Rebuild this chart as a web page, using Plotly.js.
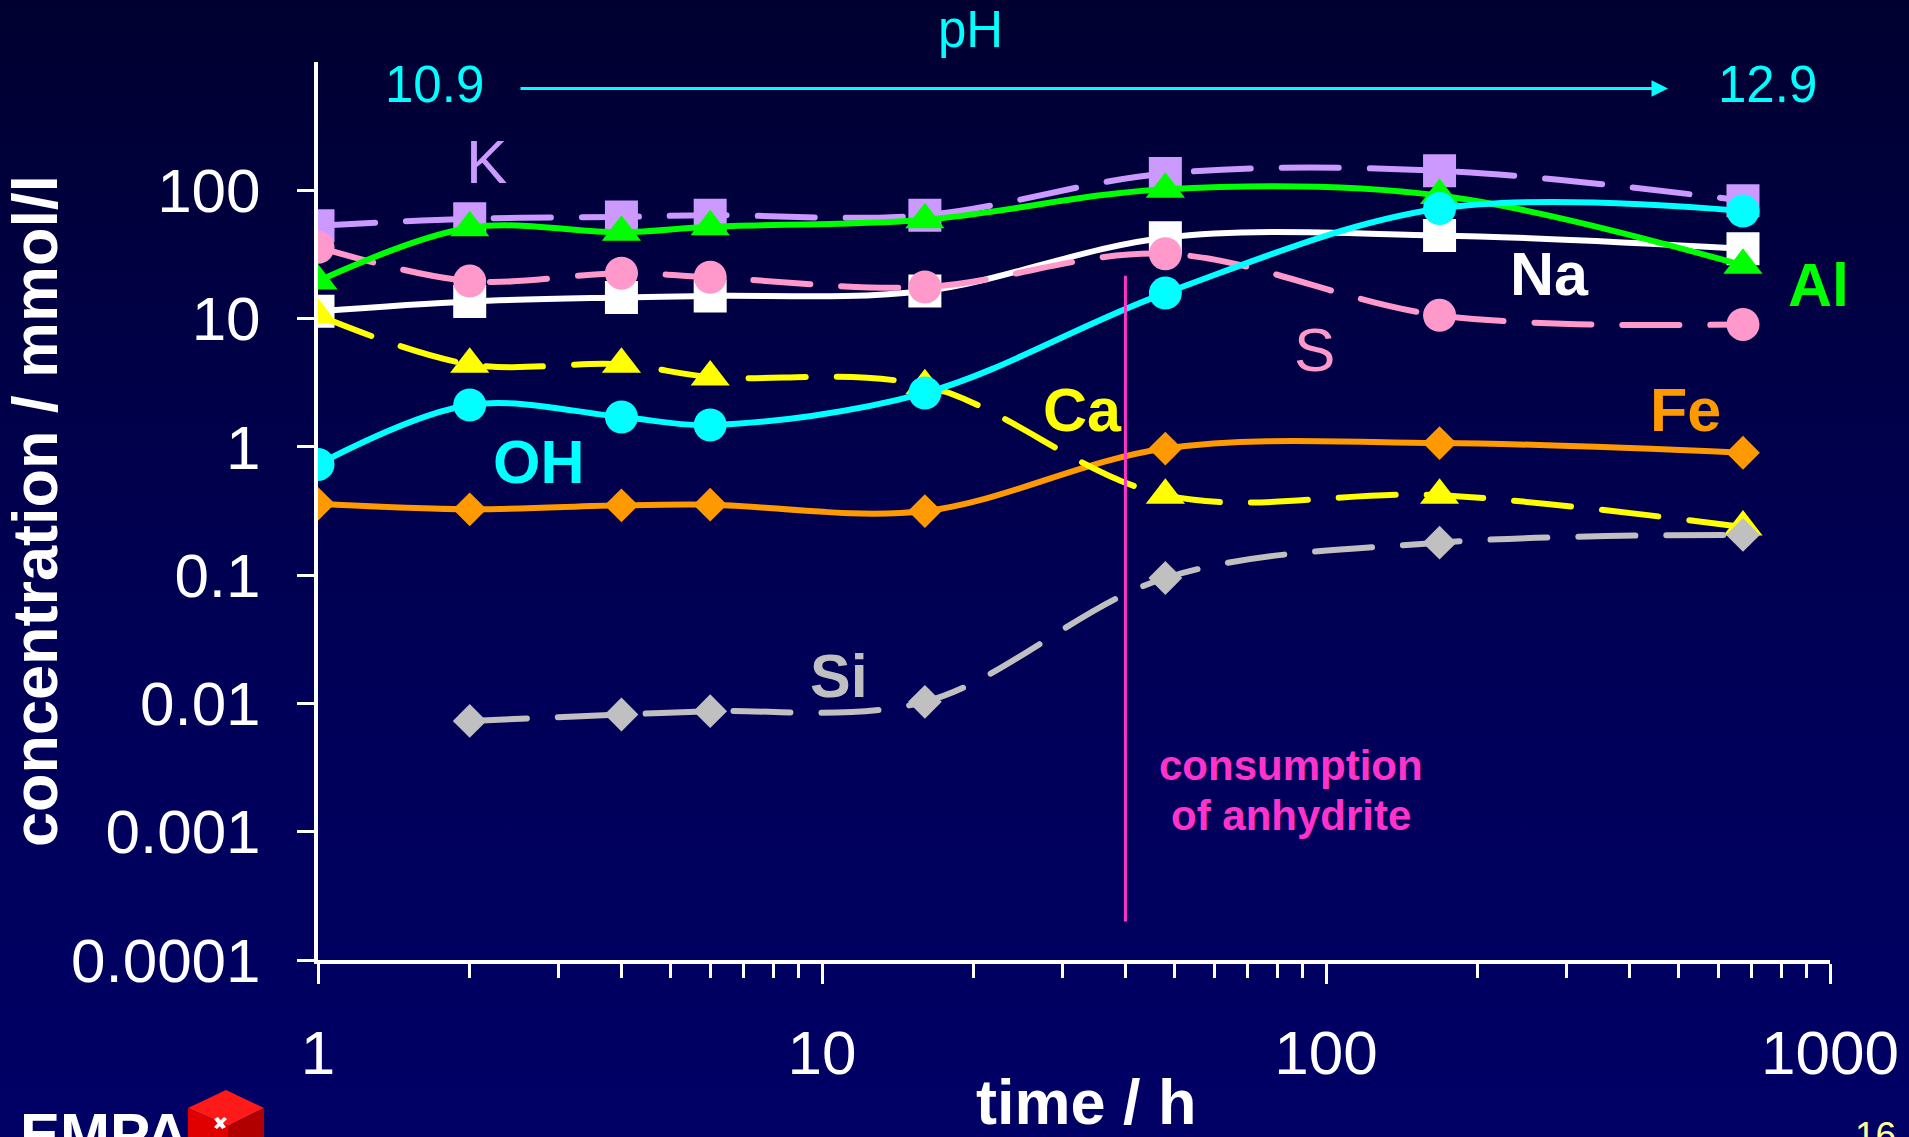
<!DOCTYPE html>
<html><head><meta charset="utf-8">
<script src="https://cdn.plot.ly/plotly-3.0.1.min.js"></script>
<style>
html,body{margin:0;padding:0;width:1909px;height:1137px;overflow:hidden;
background:linear-gradient(to bottom,#000030 0%,#000046 30%,#000058 60%,#000066 100%);}
#chart{width:1909px;height:1137px;}
#chart .scatterlayer .js-line{stroke-linecap:round;}
</style></head><body><div id="chart"></div>
<script>
// ---- data ----
const time = [1, 2, 4, 6, 16, 48, 168, 672];
const K  = [53, 60, 62, 64, 64, 135, 142, 83];
const Al = [19.6, 51, 47, 52, 59, 102, 91, 26];
const S  = [36, 19.6, 22.6, 21, 17.6, 32, 10.6, 9.0];
const Na = [11.4, 13.6, 14.6, 15, 16.4, 42.7, 44.5, 35];
const Ca = [10.6, 4.4, 4.4, 3.5, 3.0, 0.42, 0.42, 0.237];
const OH = [0.73, 2.12, 1.71, 1.48, 2.63, 15.8, 72, 69];
const Fe = [0.36, 0.326, 0.35, 0.354, 0.316, 0.97, 1.07, 0.90];
const Si = [null, 0.0073, 0.0082, 0.0087, 0.0103, 0.095, 0.179, 0.206];
const xTickVals = [1, 10, 100, 1000];
const xTickText = ['1', '10', '100', '1000'];
const yTickVals = [0.0001, 0.001, 0.01, 0.1, 1, 10, 100];
const yTickText = ['0.0001', '0.001', '0.01', '0.1', '1', '10', '100'];
const pHStart = '10.9', pHEnd = '12.9';
const anhydriteTime = 40;

const FONT = 'Liberation Sans, Arial, sans-serif';
const L = 318, R = 1830, T = 62, B = 960;
const px = x => (x - L) / (R - L);
const py = y => (B - y) / (B - T);

function tr(name, y, color, symbol, size, dash) {
  return {
    x: time, y: y, name: name, type: 'scatter', mode: 'lines+markers',
    line: {color: color, width: 6, shape: 'spline', smoothing: 1, dash: dash ? '57px,31px' : 'solid'},
    marker: {symbol: symbol, size: size, color: color, line: {width: 0}},
    connectgaps: false, hoverinfo: 'x+y+name'
  };
}
const data = [
  tr('Na', Na, '#FFFFFF', 'square', 33, false),
  tr('K', K, '#CC99FF', 'square', 33, true),
  tr('S', S, '#FF99CC', 'circle', 33, true),
  tr('Al', Al, '#00FF00', 'triangle-up', 34, false),
  tr('Fe', Fe, '#FF9900', 'diamond', 26, false),
  tr('Ca', Ca, '#FFFF00', 'triangle-up', 34, true),
  tr('Si', Si, '#C0C0C0', 'diamond', 26, true),
  tr('OH', OH, '#00FFFF', 'circle', 33, false)
];

function lab(text, x, y, color, size, bold) {
  return {xref: 'paper', yref: 'paper', x: px(x), y: py(y), text: text, showarrow: false,
    xanchor: 'center', yanchor: 'middle',
    font: {family: FONT, size: size, color: color, weight: bold ? 'bold' : 'normal'}};
}
const annotations = [
  lab('K', 486, 161, '#CC99FF', 62, false),
  lab('OH', 539, 462, '#00FFFF', 61, true),
  lab('Ca', 1082, 410, '#FFFF00', 61, true),
  lab('Na', 1549, 274, '#FFFFFF', 61, true),
  lab('Al', 1818, 285, '#00FF00', 61, true),
  lab('S', 1314, 349, '#FF99CC', 62, false),
  lab('Fe', 1685, 410, '#FF9900', 61, true),
  lab('Si', 839, 676, '#C0C0C0', 61, true),
  lab('consumption', 1291, 765, '#FF33CC', 42, true),
  lab('of anhydrite', 1291, 815, '#FF33CC', 42, true),
  lab('pH', 970, 30, '#00FFFF', 51, false),
  lab(pHStart, 434, 84, '#00FFFF', 51, false),
  lab(pHEnd, 1767, 84, '#00FFFF', 51, false),
  {xref: 'paper', yref: 'paper', x: px(1668), y: py(88.6), ax: -(1668 - 519), ay: 0,
   text: '', showarrow: true, arrowhead: 2, arrowsize: 1.1, arrowwidth: 3, arrowcolor: '#00FFFF', standoff: 0},
  {xref: 'paper', yref: 'paper', x: px(18), y: py(1099), text: 'EMPA', showarrow: false,
   xanchor: 'left', yanchor: 'top', font: {family: FONT, size: 60, color: '#FFFFFF', weight: 'bold'}},
  {xref: 'paper', yref: 'paper', x: px(1853), y: py(1113), text: '16', showarrow: false,
   xanchor: 'left', yanchor: 'top', font: {family: FONT, size: 37, color: '#FFFF99'}}
];

function path(pts) {
  return 'M' + pts.map(p => px(p[0]) + ',' + py(p[1])).join('L') + 'Z';
}
const shapes = [
  {type: 'line', xref: 'paper', yref: 'paper',
   x0: Math.log10(anhydriteTime) / 3, x1: Math.log10(anhydriteTime) / 3,
   y0: (Math.log10(0.0002) + 4) / 7, y1: (Math.log10(21.6) + 4) / 7,
   line: {color: '#FF33CC', width: 3}},
  // EMPA logo cubes (approximate)
  {type: 'path', xref: 'paper', yref: 'paper', path: path([[188,1108],[226,1090],[264,1108],[228,1126]]), fillcolor: '#FF1a1a', line: {width: 0}},
  {type: 'path', xref: 'paper', yref: 'paper', path: path([[188,1108],[228,1126],[228,1137],[188,1137]]), fillcolor: '#E00000', line: {width: 0}},
  {type: 'path', xref: 'paper', yref: 'paper', path: path([[228,1126],[264,1108],[264,1137],[228,1137]]), fillcolor: '#B00000', line: {width: 0}},
  {type: 'path', xref: 'paper', yref: 'paper', path: path([[214,1119],[218,1117],[226,1127],[222,1129]]), fillcolor: '#FFFFFF', line: {width: 0}},
  {type: 'path', xref: 'paper', yref: 'paper', path: path([[214,1127],[224,1117],[227,1119],[217,1129]]), fillcolor: '#FFFFFF', line: {width: 0}}
];

const axisCommon = {
  type: 'log', showgrid: false, zeroline: false, showline: true, linecolor: '#FFFFFF', linewidth: 4,
  ticks: 'outside', tickwidth: 3, tickcolor: '#FFFFFF', tickmode: 'array',
  tickfont: {family: FONT, size: 62, color: '#FFFFFF'}, fixedrange: true
};
const layout = {
  width: 1909, height: 1137,
  paper_bgcolor: 'rgba(0,0,0,0)', plot_bgcolor: 'rgba(0,0,0,0)',
  margin: {l: L, r: 1909 - R, t: T, b: 1137 - B, pad: 0},
  showlegend: false,
  xaxis: Object.assign({}, axisCommon, {
    range: [0, 3], ticklen: 20, tickvals: xTickVals, ticktext: xTickText, ticklabelstandoff: 16,
    minor: {ticks: 'outside', ticklen: 14, tickwidth: 3, tickcolor: '#FFFFFF', dtick: 'D1', showgrid: false},
    title: {text: '<span style="color:rgba(0,0,0,0)">r</span>time / h', font: {family: FONT, size: 63, color: '#FFFFFF', weight: 'bold'}, standoff: 32}
  }),
  yaxis: Object.assign({}, axisCommon, {
    range: [-4, 3], ticklen: 17, tickvals: yTickVals, ticktext: yTickText, ticklabelstandoff: 24,
    title: {text: 'concentration / mmol/l', font: {family: FONT, size: 63, color: '#FFFFFF', weight: 'bold'}, standoff: 0}
  }),
  annotations: annotations,
  shapes: shapes
};
Plotly.newPlot('chart', data, layout, {displayModeBar: false, staticPlot: true});
</script></body></html>
